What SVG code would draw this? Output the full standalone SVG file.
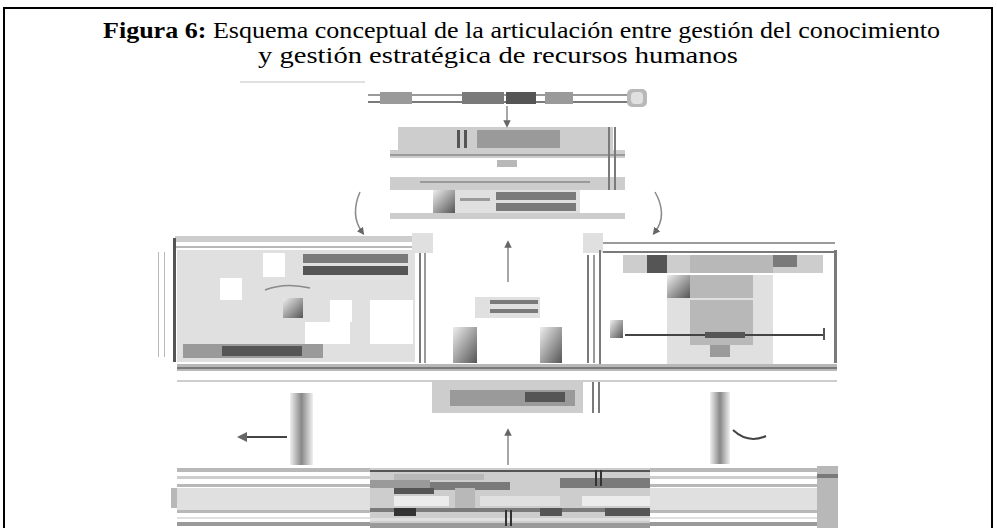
<svg xmlns="http://www.w3.org/2000/svg" width="997" height="528" viewBox="0 0 997 528">
<style>
.ttl{font-family:"Liberation Serif","Times New Roman",serif;font-size:24px;fill:#000}
.b{font-weight:bold}
.frame{fill:none;stroke:#000;stroke-width:2}
.l0{fill:#ececec}.l1{fill:#e0e0e0}.l2{fill:#cdcdcd}.l3{fill:#b8b8b8}.l4{fill:#9a9a9a}.l5{fill:#7a7a7a}.l6{fill:#555}.l7{fill:#333}
.ln{stroke:#8a8a8a;stroke-width:1.5;fill:none}
.dk{stroke:#444;stroke-width:2;fill:none}
</style>
<defs>
<linearGradient id="gv" x1="0" y1="0" x2="1" y2="0"><stop offset="0" stop-color="#f0f0f0"/><stop offset="0.5" stop-color="#888"/><stop offset="1" stop-color="#f0f0f0"/></linearGradient>
<linearGradient id="gd" x1="0" y1="0" x2="1" y2="1"><stop offset="0" stop-color="#eee"/><stop offset="1" stop-color="#555"/></linearGradient>
<marker id="ah" viewBox="0 0 10 10" refX="5" refY="5" markerWidth="5" markerHeight="5" orient="auto"><path d="M0,0 L10,5 L0,10 z" fill="#666"/></marker>
</defs>
<rect width="997" height="528" fill="#fff"/>
<path class="frame" d="M4,540 V8 H992 V540"/>
<g id="title">
<text class="ttl" x="103" y="38" textLength="837" lengthAdjust="spacingAndGlyphs"><tspan class="b">Figura 6:</tspan> Esquema conceptual de la articulación entre gestión del conocimiento</text>
<text class="ttl" x="258" y="63" textLength="480" lengthAdjust="spacingAndGlyphs">y gestión estratégica de recursos humanos</text>
</g>
<g id="header">
<rect x="240" y="81" width="125" height="2" class="l1"/>
<rect x="368" y="94" width="260" height="2" class="l4"/>
<rect x="368" y="101" width="260" height="2" class="l5"/>
<rect x="380" y="92" width="32" height="12" class="l4"/>
<rect x="462" y="92" width="42" height="12" class="l5"/>
<rect x="506" y="92" width="30" height="12" class="l6"/>
<rect x="545" y="92" width="28" height="12" class="l4"/>
<rect x="627" y="89" width="20" height="18" rx="5" class="l3"/>
<rect x="631" y="92" width="12" height="12" rx="4" class="l1"/>
</g>
<g id="top-box">
<rect x="398" y="127" width="215" height="23" class="l2"/>
<rect x="477" y="130" width="83" height="18" class="l4"/>
<rect x="457" y="130" width="3" height="18" class="l6"/>
<rect x="464" y="130" width="3" height="18" class="l6"/>
<rect x="390" y="150" width="235" height="8" class="l2"/>
<rect x="390" y="154" width="235" height="2" class="l4"/>
<rect x="497" y="160" width="20" height="7" class="l3"/>
<rect x="390" y="177" width="235" height="13" class="l2"/>
<rect x="420" y="181" width="170" height="2" class="l4"/>
<rect x="433" y="190" width="147" height="23" class="l1"/>
<rect x="433" y="190" width="22" height="23" fill="url(#gd)"/>
<rect x="496" y="192" width="80" height="8" class="l5"/>
<rect x="496" y="203" width="80" height="8" class="l5"/>
<rect x="460" y="198" width="30" height="3" class="l4"/>
<rect x="390" y="213" width="235" height="6" class="l2"/>
<rect x="608" y="127" width="2" height="63" class="l5"/>
<rect x="614" y="127" width="2" height="63" class="l5"/>
</g>
<g id="left-box">
<rect x="177" y="250" width="238" height="112" class="l1"/>
<rect x="220" y="278" width="22" height="22" fill="#fff"/>
<rect x="263" y="253" width="22" height="24" fill="#fff"/>
<rect x="330" y="300" width="22" height="22" fill="#fff"/>
<rect x="305" y="322" width="45" height="22" fill="#fff"/>
<rect x="370" y="300" width="43" height="44" fill="#fff"/>
<rect x="283" y="298" width="20" height="20" fill="url(#gd)"/>
<rect x="175" y="236" width="240" height="6" class="l2"/>
<rect x="175" y="246" width="240" height="2" class="l3"/>
<rect x="303" y="254" width="105" height="9" class="l5"/>
<rect x="303" y="266" width="105" height="9" class="l6"/>
<path d="M310,288 Q285,282 265,290" class="ln"/>
<rect x="183" y="344" width="140" height="14" class="l4"/>
<rect x="222" y="346" width="80" height="10" class="l6"/>
<rect x="173" y="238" width="3" height="124" class="l6"/>
<rect x="419" y="253" width="2" height="110" class="l5"/>
<rect x="424" y="253" width="2" height="110" class="l4"/>
<rect x="158" y="252" width="1" height="105" class="l3"/>
<rect x="164" y="252" width="1" height="105" class="l3"/>
</g>
<g id="center-box">
<rect x="412" y="233" width="21" height="20" class="l1"/>
<rect x="583" y="233" width="20" height="20" class="l1"/>
<rect x="587" y="255" width="2" height="108" class="l5"/>
<rect x="593" y="255" width="2" height="108" class="l4"/>
<rect x="475" y="297" width="65" height="21" class="l1"/>
<rect x="490" y="300" width="48" height="4" class="l5"/>
<rect x="490" y="309" width="48" height="4" class="l5"/>
<rect x="453" y="327" width="24" height="36" fill="url(#gd)"/>
<rect x="540" y="327" width="22" height="36" fill="url(#gd)"/>
</g>
<g id="right-box">
<rect x="603" y="242" width="232" height="2" class="l4"/>
<rect x="603" y="251" width="232" height="2" class="l5"/>
<rect x="623" y="255" width="200" height="18" class="l2"/>
<rect x="647" y="255" width="20" height="18" class="l6"/>
<rect x="690" y="255" width="83" height="18" class="l3"/>
<rect x="773" y="255" width="24" height="12" class="l5"/>
<rect x="667" y="275" width="106" height="92" class="l1"/>
<rect x="667" y="275" width="23" height="23" fill="url(#gd)"/>
<rect x="690" y="275" width="63" height="23" class="l3"/>
<rect x="690" y="300" width="63" height="45" class="l3"/>
<rect x="710" y="345" width="20" height="12" class="l4"/>
<rect x="610" y="320" width="13" height="18" fill="url(#gd)"/>
<path d="M625,335 H823" class="dk"/>
<rect x="705" y="332" width="40" height="6" class="l6"/>
<rect x="823" y="328" width="2" height="12" class="l6"/>
<rect x="834" y="250" width="3" height="113" class="l5"/>
<rect x="599" y="250" width="2" height="115" class="l5"/>
</g>
<g id="bands">
<rect x="177" y="364" width="660" height="7" class="l3"/>
<rect x="177" y="367" width="660" height="2" class="l5"/>
<rect x="177" y="380" width="660" height="2" class="l2"/>
</g>
<g id="lower-box">
<rect x="432" y="382" width="151" height="31" class="l2"/>
<rect x="450" y="390" width="125" height="16" class="l4"/>
<rect x="525" y="392" width="40" height="10" class="l6"/>
<rect x="592" y="382" width="2" height="31" class="l5"/>
<rect x="598" y="382" width="2" height="31" class="l5"/>
</g>
<g id="bottom-box">
<rect x="171" y="488" width="6" height="20" class="l3"/>
<rect x="177" y="468" width="660" height="4" class="l3"/>
<rect x="177" y="476" width="660" height="3" class="l2"/>
<rect x="177" y="484" width="660" height="3" class="l3"/>
<rect x="177" y="488" width="660" height="22" class="l1"/>
<rect x="177" y="510" width="660" height="3" class="l3"/>
<rect x="177" y="517" width="660" height="2" class="l1"/>
<rect x="177" y="522" width="660" height="4" class="l4"/>
<rect x="370" y="468" width="280" height="60" class="l2"/>
<rect x="370" y="470" width="280" height="2" class="l6"/>
<rect x="394" y="474" width="90" height="6" class="l3"/>
<rect x="370" y="480" width="60" height="8" class="l4"/>
<rect x="430" y="482" width="80" height="8" class="l5"/>
<rect x="560" y="478" width="90" height="10" class="l5"/>
<rect x="394" y="488" width="40" height="6" class="l6"/>
<rect x="455" y="488" width="20" height="22" class="l3"/>
<rect x="394" y="496" width="55" height="10" class="l0"/>
<rect x="480" y="496" width="80" height="10" class="l1"/>
<rect x="582" y="496" width="68" height="10" class="l0"/>
<rect x="370" y="508" width="280" height="4" class="l5"/>
<rect x="394" y="508" width="22" height="8" class="l7"/>
<rect x="540" y="508" width="22" height="8" class="l6"/>
<rect x="605" y="508" width="45" height="8" class="l6"/>
<rect x="370" y="518" width="280" height="3" class="l1"/>
<rect x="370" y="523" width="280" height="5" class="l4"/>
<rect x="595" y="470" width="2" height="16" class="l7"/>
<rect x="600" y="470" width="2" height="16" class="l7"/>
<rect x="505" y="510" width="2" height="16" class="l7"/>
<rect x="510" y="510" width="2" height="16" class="l7"/>
<rect x="817" y="466" width="21" height="62" class="l3"/>
<rect x="817" y="474" width="21" height="4" class="l5"/>
</g>
<g id="connectors">
<path d="M507,106 V124" class="ln" marker-end="url(#ah)"/>
<path d="M360,192 Q350,215 362,232" class="ln" stroke-width="4" marker-end="url(#ah)"/>
<path d="M655,192 Q668,215 655,232" class="ln" stroke-width="4" marker-end="url(#ah)"/>
<path d="M508,282 V244" class="ln" stroke-width="3" marker-end="url(#ah)"/>
<path d="M508,465 V432" class="ln" stroke-width="3" marker-end="url(#ah)"/>
<rect x="290" y="393" width="23" height="72" fill="url(#gv)"/>
<path d="M287,437 H242" class="dk" stroke-width="4" marker-end="url(#ah)"/>
<rect x="710" y="392" width="20" height="72" fill="url(#gv)"/>
<path d="M733,430 Q748,444 766,436" class="dk" stroke-width="5"/>
</g>
</svg>
